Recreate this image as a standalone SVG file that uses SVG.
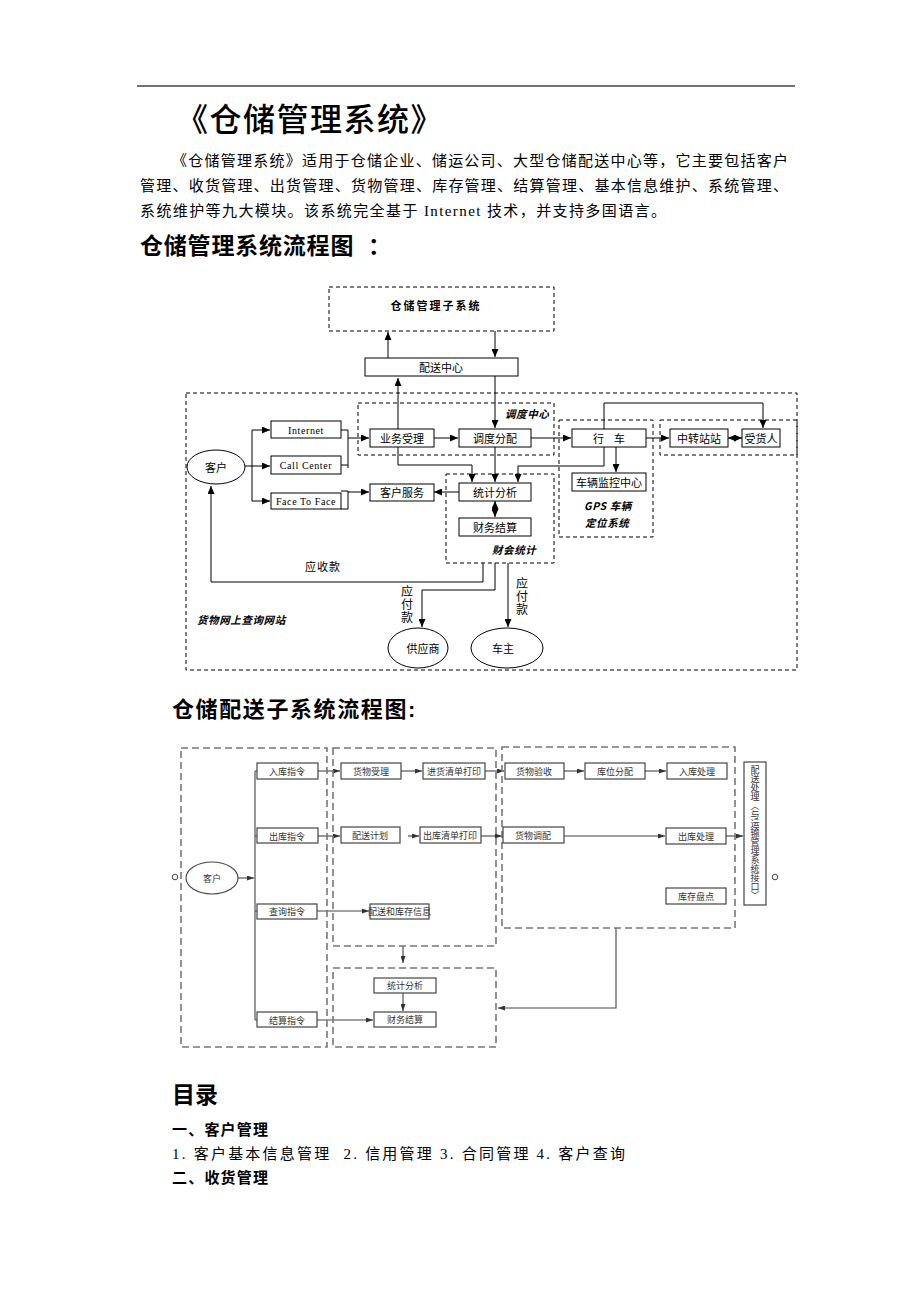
<svg xmlns="http://www.w3.org/2000/svg" width="920" height="1302" viewBox="0 0 920 1302">
<style>
.box{fill:#fff;stroke:#000;stroke-width:1}
.dash{fill:none;stroke:#000;stroke-width:1;stroke-dasharray:4 3}
.ln{fill:none;stroke:#000;stroke-width:1}
.t{font-family:"Noto Sans CJK SC",sans-serif;font-size:11px;text-anchor:middle;dominant-baseline:central;fill:#000}
.lat{font-family:"Liberation Serif",serif;font-size:10px;letter-spacing:0.6px}
.bi{font-family:"Noto Sans CJK SC",sans-serif;font-weight:bold;font-style:italic;font-size:10.5px;letter-spacing:0.6px;fill:#000}
.vt{font-family:"Noto Sans CJK SC",sans-serif;font-size:12px;letter-spacing:1px;fill:#000}
.box2{fill:#fff;stroke:#444;stroke-width:1.2}
.dash2{fill:none;stroke:#777;stroke-width:1.6;stroke-dasharray:7 4}
.ln2{fill:none;stroke:#444;stroke-width:1.1}
.t2{font-family:"Noto Sans CJK SC",sans-serif;font-size:9px;text-anchor:middle;dominant-baseline:central;fill:#333}
.body{font-family:"Liberation Serif","Noto Sans CJK SC",serif;font-size:15px;fill:#000}
.h{font-family:"Liberation Sans","Noto Sans CJK SC",sans-serif;font-weight:bold;fill:#000}
</style>
<defs>
<marker id="a" markerWidth="8" markerHeight="7" refX="8" refY="3.5" orient="auto" markerUnits="userSpaceOnUse"><path d="M0,0 L8,3.5 L0,7 z" fill="#000"/></marker>
<marker id="as" markerWidth="8" markerHeight="7" refX="0" refY="3.5" orient="auto" markerUnits="userSpaceOnUse"><path d="M8,0 L0,3.5 L8,7 z" fill="#000"/></marker>
<marker id="a2" markerWidth="7" markerHeight="5" refX="7" refY="2.5" orient="auto" markerUnits="userSpaceOnUse"><path d="M0,0 L7,2.5 L0,5 z" fill="#333"/></marker>
</defs>

<g id="header">
<line x1="137" y1="86" x2="795" y2="86" stroke="#444" stroke-width="1.5"/>
<text x="176" y="131" font-family="'Noto Sans CJK SC',sans-serif" font-weight="500" font-size="32" letter-spacing="1.5" fill="#000">《仓储管理系统》</text>
<text x="172" y="166" class="body" textLength="616" lengthAdjust="spacing">《仓储管理系统》适用于仓储企业、储运公司、大型仓储配送中心等，它主要包括客户</text>
<text x="140" y="191" class="body" textLength="648" lengthAdjust="spacing">管理、收货管理、出货管理、货物管理、库存管理、结算管理、基本信息维护、系统管理、</text>
<text x="140" y="216" class="body" letter-spacing="1.4">系统维护等九大模块。该系统完全基于 Internet 技术，并支持多国语言。</text>
<text x="140" y="254" class="h" font-size="23" letter-spacing="0.8">仓储管理系统流程图</text>
<text x="368" y="254" class="h" font-size="23">：</text>
</g>

<g id="connectors">
<path class="ln" d="M388,358 V332" marker-end="url(#a)"/>
<path class="ln" d="M495,331 V357" marker-end="url(#a)"/>
<path class="ln" d="M398,429 V378" marker-end="url(#a)"/>
<path class="ln" d="M398,447 V465 H472 V482" marker-end="url(#a)"/>
<path class="ln" d="M495,376 V428" marker-end="url(#a)"/>
<path class="ln" d="M495,447 V482" marker-end="url(#a)"/>
<path class="ln" d="M604,447 V466 H518 V482" marker-end="url(#a)"/>
<path class="ln" d="M616,447 V472" marker-end="url(#a)"/>
<path class="ln" d="M604,429 V403 H763 V428" marker-end="url(#a)"/>
<path class="ln" d="M434,438 H458" marker-end="url(#a)"/>
<path class="ln" d="M531,438 H571" marker-end="url(#a)"/>
<path class="ln" d="M646,438 H669" marker-end="url(#a)"/>
<path class="ln" d="M728,438 H742" marker-start="url(#as)" marker-end="url(#a)"/>
<path class="ln" d="M245,466 H252 M252,430 V501"/>
<path class="ln" d="M252,430 H270" marker-end="url(#a)"/>
<path class="ln" d="M252,466 H270" marker-end="url(#a)"/>
<path class="ln" d="M252,501 H270" marker-end="url(#a)"/>
<path class="ln" d="M341,430 H348 M341,465 H348 M348,430 V468"/>
<path class="ln" d="M348,438 H369" marker-end="url(#a)"/>
<path class="ln" d="M341,491 H348 V509 H341"/>
<path class="ln" d="M348,492 H369" marker-end="url(#a)"/>
<path class="ln" d="M459,492 H434" marker-end="url(#a)"/>
<path class="ln" d="M495,501 V517" marker-start="url(#as)" marker-end="url(#a)"/>
<path class="ln" d="M483,563 V582 H211 V486" marker-end="url(#a)"/>
<path class="ln" d="M495,563 V590 H422 V627" marker-end="url(#a)"/>
<path class="ln" d="M508,563 V627" marker-end="url(#a)"/>

<path class="ln2" d="M238,878 H254" marker-end="url(#a2)"/>
<path class="ln2" d="M255,771 V1020 M255,771 H257 M255,836 H257 M255,911 H257 M255,1020 H257"/>
<path class="ln2" d="M318,771 H340" marker-end="url(#a2)"/>
<path class="ln2" d="M401,771 H422" marker-end="url(#a2)"/>
<path class="ln2" d="M485,771 H504" marker-end="url(#a2)"/>
<path class="ln2" d="M564,771 H584" marker-end="url(#a2)"/>
<path class="ln2" d="M645,771 H666" marker-end="url(#a2)"/>
<path class="ln2" d="M318,836 H340" marker-end="url(#a2)"/>
<path class="ln2" d="M408,836 H419" marker-end="url(#a2)"/>
<path class="ln2" d="M481,836 H502" marker-end="url(#a2)"/>
<path class="ln2" d="M564,836 H665" marker-end="url(#a2)"/>
<path class="ln2" d="M726,836 H743" marker-end="url(#a2)"/>
<path class="ln2" d="M317,911 H369" marker-end="url(#a2)"/>
<path class="ln2" d="M403,946 V963" marker-end="url(#a2)"/>
<path class="ln2" d="M403,993 V1011" marker-end="url(#a2)"/>
<path class="ln2" d="M317,1020 H373" marker-end="url(#a2)"/>
<path class="ln2" d="M616,928 V1008 H498" stroke="#666" marker-end="url(#a2)"/>
</g>

<g id="subsys">
<rect class="dash" x="329" y="287" width="225" height="44"/>
<text class="t" x="436" y="305" font-weight="bold" font-size="13" letter-spacing="2">仓储管理子系统</text>
</g>
<g id="peisong"><rect class="box" x="365" y="358" width="153" height="18"/><text class="t" x="441" y="367">配送中心</text></g>
<g id="outer"><rect class="dash" x="186" y="393" width="611" height="277"/>
<text class="bi" x="197" y="624">货物网上查询网站</text></g>
<g id="diaodu-center"><rect class="dash" x="358" y="403" width="196" height="52"/>
<text class="bi" x="505" y="418">调度中心</text></g>
<g id="caihui"><rect class="dash" x="446" y="474" width="108" height="89"/>
<text class="bi" x="492" y="554">财会统计</text></g>
<g id="gps"><rect class="dash" x="559" y="420" width="94" height="117"/>
<text class="bi" x="584" y="510">GPS 车辆</text><text class="bi" x="585" y="527">定位系统</text></g>
<g id="zhongzhuan-area"><rect class="dash" x="660" y="420" width="137" height="35"/></g>
<g id="kehu"><ellipse cx="216" cy="467" rx="29" ry="17" fill="#fff" stroke="#000"/><text class="t" x="216" y="467">客户</text></g>
<g id="internet"><rect class="box" x="271" y="421" width="70" height="17"/><text class="t lat" x="306" y="430">Internet</text></g>
<g id="callcenter"><rect class="box" x="271" y="456" width="70" height="18"/><text class="t lat" x="306" y="465">Call Center</text></g>
<g id="facetoface"><rect class="box" x="271" y="493" width="70" height="16"/><text class="t lat" x="306" y="501" letter-spacing="0.2">Face To Face</text></g>
<g id="yewu"><rect class="box" x="370" y="429" width="64" height="18"/><text class="t" x="402" y="438">业务受理</text></g>
<g id="diaodu"><rect class="box" x="459" y="429" width="72" height="18"/><text class="t" x="495" y="438">调度分配</text></g>
<g id="kehufuwu"><rect class="box" x="370" y="484" width="64" height="17"/><text class="t" x="402" y="492">客户服务</text></g>
<g id="tongji"><rect class="box" x="459" y="483" width="72" height="18"/><text class="t" x="495" y="492">统计分析</text></g>
<g id="caiwu"><rect class="box" x="459" y="518" width="72" height="18"/><text class="t" x="495" y="527">财务结算</text></g>
<g id="xingche"><rect class="box" x="572" y="429" width="74" height="18"/><text class="t" x="609" y="438" xml:space="preserve">行    车</text></g>
<g id="jiankong"><rect class="box" x="572" y="473" width="74" height="18"/><text class="t" x="609" y="482">车辆监控中心</text></g>
<g id="zhongzhuan"><rect class="box" x="670" y="429" width="58" height="18"/><text class="t" x="699" y="438">中转站站</text></g>
<g id="shouhuo"><rect class="box" x="742" y="429" width="38" height="18"/><text class="t" x="761" y="438">受货人</text></g>
<g id="labels1">
<text class="t" x="323" y="566" font-size="12.5" letter-spacing="1">应收款</text>
<text class="vt" x="407" y="585" writing-mode="vertical-rl">应付款</text>
<text class="vt" x="522" y="577" writing-mode="vertical-rl">应付款</text>
</g>
<g id="gongying"><ellipse cx="418" cy="648" rx="30" ry="20" fill="#fff" stroke="#000"/><text class="t" x="423" y="648">供应商</text></g>
<g id="chezhu"><ellipse cx="507" cy="648" rx="36" ry="20" fill="#fff" stroke="#000"/><text class="t" x="503" y="648">车主</text></g>

<g id="heading2"><text x="172" y="717" class="h" font-size="22" letter-spacing="1.6">仓储配送子系统流程图:</text></g>

<g id="areas2">
<rect class="dash2" x="181" y="748" width="146" height="299"/>
<rect class="dash2" x="333" y="748" width="163" height="198"/>
<rect class="dash2" x="333" y="968" width="163" height="79"/>
<rect class="dash2" x="502" y="747" width="233" height="181"/>
</g>
<g id="kehu2"><ellipse cx="212" cy="878" rx="26" ry="16" fill="#fff" stroke="#444" stroke-width="1.1"/><text class="t2" x="212" y="878" font-size="10">客户</text>
<circle cx="175" cy="877" r="2.8" fill="none" stroke="#444"/></g>
<g id="ruku"><rect class="box2" x="257" y="763" width="61" height="16"/><text class="t2" x="287" y="771">入库指令</text></g>
<g id="chuku"><rect class="box2" x="257" y="828" width="61" height="15"/><text class="t2" x="287" y="836">出库指令</text></g>
<g id="chaxun"><rect class="box2" x="257" y="904" width="60" height="15"/><text class="t2" x="287" y="911">查询指令</text></g>
<g id="jiesuan"><rect class="box2" x="257" y="1012" width="60" height="15"/><text class="t2" x="287" y="1020">结算指令</text></g>
<g id="huowushouli"><rect class="box2" x="341" y="763" width="60" height="16"/><text class="t2" x="371" y="771">货物受理</text></g>
<g id="jinhuo"><rect class="box2" x="423" y="763" width="62" height="16"/><text class="t2" x="454" y="771">进货清单打印</text></g>
<g id="yanshou"><rect class="box2" x="505" y="763" width="59" height="16"/><text class="t2" x="534" y="771">货物验收</text></g>
<g id="kuwei"><rect class="box2" x="585" y="763" width="60" height="16"/><text class="t2" x="615" y="771">库位分配</text></g>
<g id="rukuchuli"><rect class="box2" x="667" y="763" width="60" height="16"/><text class="t2" x="697" y="771">入库处理</text></g>
<g id="peisongjihua"><rect class="box2" x="341" y="827" width="59" height="16"/><text class="t2" x="370" y="835">配送计划</text></g>
<g id="chukuqingdan"><rect class="box2" x="420" y="827" width="61" height="16"/><text class="t2" x="450" y="835">出库清单打印</text></g>
<g id="tiaopei"><rect class="box2" x="503" y="827" width="61" height="16"/><text class="t2" x="533" y="835">货物调配</text></g>
<g id="chukuchuli"><rect class="box2" x="666" y="828" width="60" height="16"/><text class="t2" x="696" y="836">出库处理</text></g>
<g id="pandian"><rect class="box2" x="666" y="888" width="60" height="16"/><text class="t2" x="696" y="896">库存盘点</text></g>
<g id="kucunxinxi"><rect class="box2" x="370" y="904" width="59" height="15"/><text class="t2" x="399.5" y="911" font-size="8.3">配送和库存信息</text></g>
<g id="tongji2"><rect class="box2" x="374" y="978" width="62" height="15"/><text class="t2" x="405" y="985">统计分析</text></g>
<g id="caiwu2"><rect class="box2" x="374" y="1012" width="62" height="15"/><text class="t2" x="405" y="1019">财务结算</text></g>
<g id="jiekou"><rect class="box2" x="744" y="762" width="22" height="143"/>
<text x="755" y="765" font-family="'Noto Sans CJK SC',sans-serif" font-size="9" fill="#333" writing-mode="vertical-rl">配送处理〈与运输管理系统接口〉</text>
<circle cx="775" cy="877" r="2.8" fill="none" stroke="#444"/></g>

<g id="toc">
<text x="172" y="1103" class="h" font-size="23">目录</text>
<text x="172" y="1135" class="h" font-size="15" letter-spacing="1.2">一、客户管理</text>
<text x="172" y="1159" class="body" xml:space="preserve" textLength="453" lengthAdjust="spacing">1. 客户基本信息管理  2. 信用管理 3. 合同管理 4. 客户查询</text>
<text x="172" y="1183" class="h" font-size="15" letter-spacing="1.2">二、收货管理</text>
</g>
</svg>
